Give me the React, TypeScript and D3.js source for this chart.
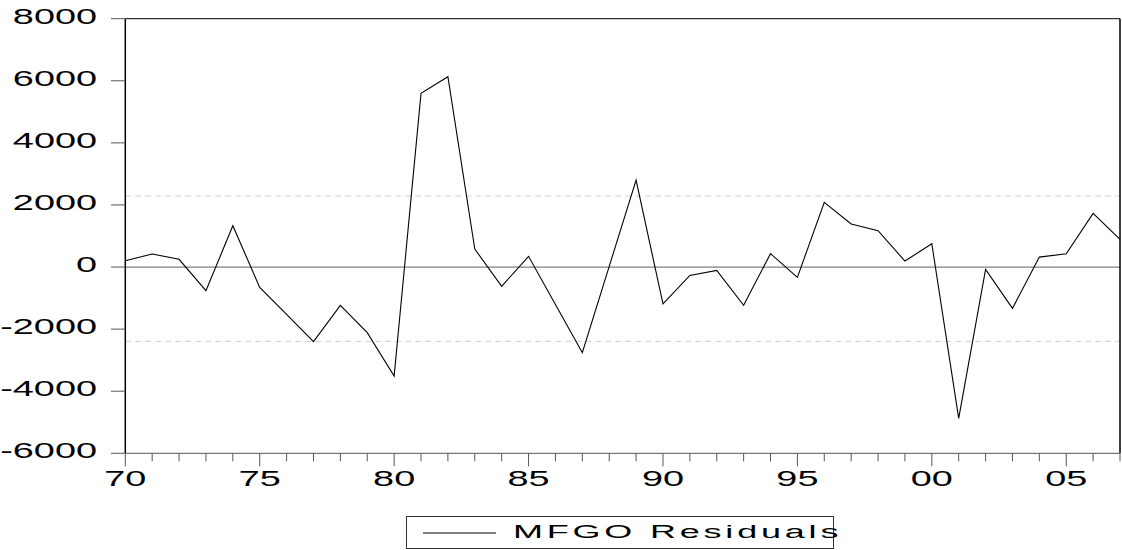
import React from "react";
import * as d3 from "d3";

const years: number[] = d3.range(1970, 2008);
const residuals: number[] = [
  205, 420, 250, -760, 1330, -655, -1525, -2405, -1235, -2115,
  -3510, 5595, 6130, 580, -620, 345, -1210, -2760, 20, 2800,
  -1190, -270, -107, -1230, 430, -333, 2085, 1385, 1170, 193,
  750, -4875, -75, -1330, 320, 430, 1730, 890,
];
const yTicks: number[] = [-6000, -4000, -2000, 0, 2000, 4000, 6000, 8000];
const xMajor: number[] = [1970, 1975, 1980, 1985, 1990, 1995, 2000, 2005];
const bandUpper = 2285;
const bandLower = -2394;
const seriesName = "MFGO Residuals";

const W = 1122;
const H = 550;
const L = 125.3;
const R = 1120;
const T = 18.7;
const B = 453.3;
const FONT = "'Liberation Sans', Arial, sans-serif";
const SX = 1.72;

export default function App() {
  const x = d3.scaleLinear().domain([1970, 2007]).range([L, R]);
  const y = d3.scaleLinear().domain([-6000, 8000]).range([B, T]);
  const line = d3
    .line<number>()
    .x((_, i) => x(years[i]))
    .y((d) => y(d));
  const fmtYear = (v: number) => String(v % 100).padStart(2, "0");

  return (
    <svg
      width={W}
      height={H}
      style={{ position: "absolute", left: 0, top: 0, background: "#fff" }}
    >
      {[bandUpper, bandLower].map((v) => (
        <line
          key={v}
          x1={L}
          x2={R}
          y1={y(v)}
          y2={y(v)}
          stroke="#cfcfcf"
          strokeWidth={1}
          strokeDasharray="6,4"
        />
      ))}
      <line x1={L} x2={R} y1={y(0)} y2={y(0)} stroke="#808080" strokeWidth={1.2} />
      <path d={line(residuals) || ""} fill="none" stroke="#000" strokeWidth={1.1} />
      <line x1={L} x2={R} y1={T} y2={T} stroke="#000" strokeWidth={1} />
      <line x1={R} x2={R} y1={T} y2={B} stroke="#000" strokeWidth={1.5} />
      <line x1={L} x2={L} y1={T} y2={B} stroke="#000" strokeWidth={1.5} />
      <line x1={L} x2={R} y1={B} y2={B} stroke="#555" strokeWidth={1} />
      {yTicks.map((v) => (
        <g key={v}>
          <line x1={111} x2={L} y1={y(v)} y2={y(v)} stroke="#555" strokeWidth={1} />
          <text
            transform={`translate(97,${y(v) + 5}) scale(${SX},1)`}
            textAnchor="end"
            fontFamily={FONT}
            fontSize={22}
            fill="#000"
          >
            {v}
          </text>
        </g>
      ))}
      {years.map((yr) => {
        const major = yr % 5 === 0;
        return (
          <line
            key={yr}
            x1={x(yr)}
            x2={x(yr)}
            y1={B}
            y2={B + (major ? 13 : 8)}
            stroke="#555"
            strokeWidth={1}
          />
        );
      })}
      {xMajor.map((yr) => (
        <text
          key={yr}
          transform={`translate(${x(yr)},486) scale(${SX},1)`}
          textAnchor="middle"
          fontFamily={FONT}
          fontSize={22}
          fill="#000"
        >
          {fmtYear(yr)}
        </text>
      ))}
      <rect x={406.5} y={516.5} width={427} height={32} fill="none" stroke="#333" strokeWidth={1} />
      <line x1={423} x2={496} y1={533} y2={533} stroke="#000" strokeWidth={1} />
      <text
        transform={`translate(513,538) scale(2,1)`}
        fontFamily={FONT}
        fontSize={18}
        letterSpacing={1.9}
        fill="#000"
      >
        {seriesName}
      </text>
    </svg>
  );
}
